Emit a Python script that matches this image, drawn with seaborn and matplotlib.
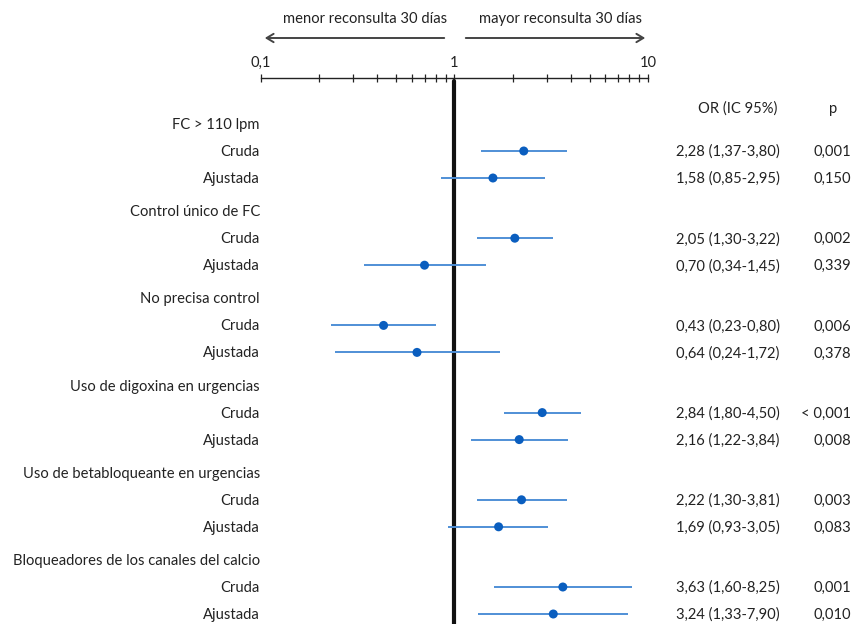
import matplotlib
matplotlib.use("Agg")
import matplotlib.pyplot as plt
import matplotlib.transforms as mtransforms
from matplotlib.ticker import FixedLocator, FixedFormatter, NullFormatter
import numpy as np
import pandas as pd
import seaborn as sns

# ---------------- data ----------------
groups = ["FC > 110 lpm", "Control único de FC", "No precisa control",
          "Uso de digoxina en urgencias", "Uso de betabloqueante en urgencias",
          "Bloqueadores de los canales del calcio"]
kinds = ["Cruda", "Ajustada"]
or_vals = [2.28, 1.58, 2.05, 0.70, 0.43, 0.64, 2.84, 2.16, 2.22, 1.69, 3.63, 3.24]
ci_low = [1.37, 0.85, 1.30, 0.34, 0.23, 0.24, 1.80, 1.22, 1.30, 0.93, 1.60, 1.33]
ci_high = [3.80, 2.95, 3.22, 1.45, 0.80, 1.72, 4.50, 3.84, 3.81, 3.05, 8.25, 7.90]
or_text = ["2,28 (1,37-3,80)", "1,58 (0,85-2,95)", "2,05 (1,30-3,22)", "0,70 (0,34-1,45)",
           "0,43 (0,23-0,80)", "0,64 (0,24-1,72)", "2,84 (1,80-4,50)", "2,16 (1,22-3,84)",
           "2,22 (1,30-3,81)", "1,69 (0,93-3,05)", "3,63 (1,60-8,25)", "3,24 (1,33-7,90)"]
p_text = ["0,001", "0,150", "0,002", "0,339", "0,006", "0,378",
          "< 0,001", "0,008", "0,003", "0,083", "0,001", "0,010"]
tick_vals = [0.1, 1, 10]
tick_labels = ["0,1", "1", "10"]

# ---------------- layout ----------------
W, H = 853, 624
sns.set_theme(style="white")
plt.rcParams["font.family"] = ["Lato", "DejaVu Sans"]
FS = 10.6
TXT = "#222222"

fig = plt.figure(figsize=(W / 100, H / 100), dpi=100)
ax_left, ax_right, ax_top = 261, 648, 78
ax = fig.add_axes([ax_left / W, 0, (ax_right - ax_left) / W, 1 - ax_top / H])

group_step, row_step, first = 87.2, 27.0, 124.0
rows = []
for g, grp in enumerate(groups):
    base = first + g * group_step
    rows.append(dict(label=grp, y=base, header=True))
    for k, kd in enumerate(kinds):
        rows.append(dict(label=kd, y=base + (k + 1) * row_step, header=False))
data_rows = [r for r in rows if not r["header"]]
df = pd.DataFrame({
    "y": [r["y"] for r in data_rows],
    "OR": or_vals, "lo": ci_low, "hi": ci_high,
})

ax.set_xscale("log")
ax.set_xlim(0.1, 10)
ax.set_ylim(H, ax_top)

# reference line
ax.axvline(1, ymin=0, ymax=1 - 3 / (H - ax_top), color="#111111", lw=3, zorder=1)

# CI lines and points
ax.hlines(df["y"], df["lo"], df["hi"], color="#4f8fd6", lw=1.4, zorder=2)
sns.scatterplot(data=df, x="OR", y="y", ax=ax, color="#0a5ebf", s=42,
                edgecolor="none", zorder=3, legend=False)

# axis styling
for s in ["left", "right", "bottom"]:
    ax.spines[s].set_visible(False)
ax.spines["top"].set_color("#222222")
ax.spines["top"].set_linewidth(1.0)
ax.xaxis.set_ticks_position("top")
ax.xaxis.set_label_position("top")
ax.xaxis.set_major_locator(FixedLocator(tick_vals))
ax.xaxis.set_major_formatter(FixedFormatter(tick_labels))
minor = [m * d for d in [0.1, 1] for m in range(2, 10)]
ax.xaxis.set_minor_locator(FixedLocator(minor))
ax.xaxis.set_minor_formatter(NullFormatter())
ax.tick_params(axis="x", which="both", direction="inout", length=6, width=0.9,
               color="#222222", top=True, bottom=False)
ax.tick_params(axis="x", which="major", labelsize=FS, pad=3, labelcolor=TXT)
ax.set_xlabel("")
ax.set_ylabel("")
ax.set_yticks([])
ax.grid(False)

# row labels (figure x, data y)
tr = mtransforms.blended_transform_factory(fig.transFigure, ax.transData)
for r in rows:
    ax.text(260 / W, r["y"] + 1, r["label"], transform=tr, ha="right", va="center",
            fontsize=FS, color=TXT, clip_on=False)
for r, ot, pt in zip(data_rows, or_text, p_text):
    ax.text(676 / W, r["y"] + 1, ot, transform=tr, ha="left", va="center",
            fontsize=FS, color=TXT, clip_on=False)
    ax.text(851 / W, r["y"] + 1, pt, transform=tr, ha="right", va="center",
            fontsize=FS, color=TXT, clip_on=False)
ax.text(738 / W, 109, "OR (IC 95%)", transform=tr, ha="center", va="center",
        fontsize=FS, color=TXT, clip_on=False)
ax.text(833 / W, 109, "p", transform=tr, ha="center", va="center",
        fontsize=FS, color=TXT, clip_on=False)

# direction arrows and captions (figure pixel fractions)
ay = 1 - 38 / H
fig.add_artist(matplotlib.patches.FancyArrowPatch(
    (447 / W, ay), (262 / W, ay), transform=fig.transFigure,
    arrowstyle="->,head_length=5,head_width=3", color="#444444", lw=1.4))
fig.add_artist(matplotlib.patches.FancyArrowPatch(
    (463 / W, ay), (648 / W, ay), transform=fig.transFigure,
    arrowstyle="->,head_length=5,head_width=3", color="#444444", lw=1.4))
fig.text(365 / W, 1 - 19 / H, "menor reconsulta 30 días", ha="center", va="center",
         fontsize=FS, color=TXT)
fig.text(561 / W, 1 - 19 / H, "mayor reconsulta 30 días", ha="center", va="center",
         fontsize=FS, color=TXT)

fig.savefig("out.png", dpi=100, facecolor="white")
